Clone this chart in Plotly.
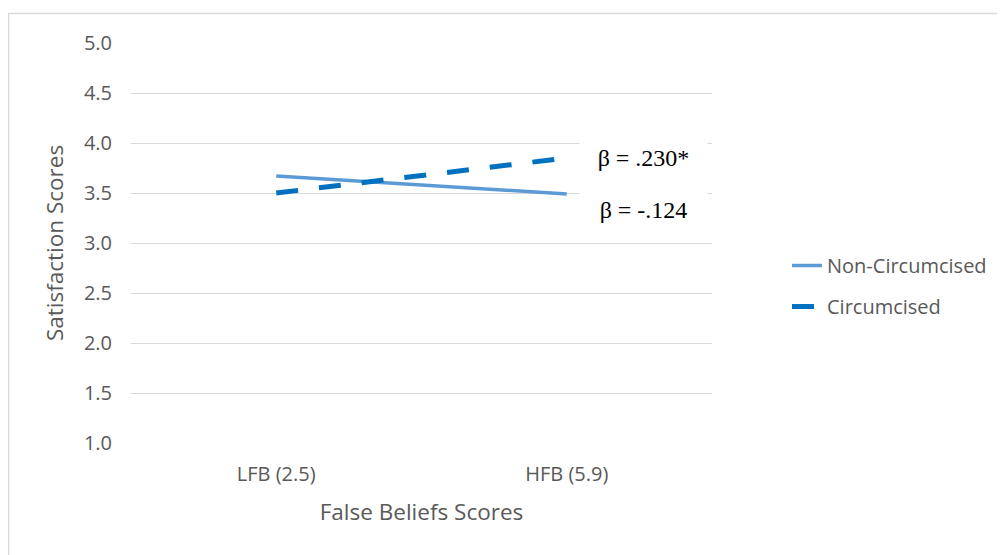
import plotly.graph_objects as go

categories = ["LFB (2.5)", "HFB (5.9)"]
non_circ = [3.67, 3.49]
circ = [3.50, 3.85]
series_names = ["Non-Circumcised", "Circumcised"]
y_ticks = [1.0, 1.5, 2.0, 2.5, 3.0, 3.5, 4.0, 4.5, 5.0]
beta_labels = ["β = .230*", "β = -.124"]

OFF = 8  # page body margin
W, H = 1005 - OFF, 555 - OFF
# plot area in window pixels
PL, PR, PT, PB = 131, 712, 43, 443
L = PL - OFF
T = PT - OFF
R = W - (PR - OFF)
B = H - (PB - OFF)
pw = PR - PL
ph = PB - PT

def px_x(p):
    return (p - PL) / pw

def px_y(p):
    return (PB - p) / ph

fig = go.Figure()
fig.add_trace(go.Scatter(
    x=categories, y=non_circ, mode="lines", name=series_names[0],
    line=dict(color="#5B9BD5", width=3.5), legendgroup="a"))
fig.add_trace(go.Scatter(
    x=categories, y=circ, mode="lines", name=series_names[1],
    line=dict(color="#0070C0", width=5, dash="22px,21px"), legendgroup="b"))

font = "Open Sans, Liberation Sans, sans-serif"
grey = "#595959"

fig.update_layout(
    width=W, height=H,
    margin=dict(l=L, r=R, t=T, b=B, autoexpand=False),
    paper_bgcolor="white", plot_bgcolor="white",
    font=dict(family=font, color=grey, size=20),
    showlegend=True,
    legend=dict(x=px_x(787), xanchor="left", y=px_y(286), yanchor="middle",
                font=dict(size=20, color=grey), tracegroupgap=12,
                traceorder="grouped", bgcolor="rgba(0,0,0,0)"),
    xaxis=dict(type="category", range=[-0.5, 1.5], showgrid=False,
               showline=False, zeroline=False, ticks="",
               tickfont=dict(size=20, color=grey), ticklabelstandoff=17,
               title=dict(text="False Beliefs Scores", font=dict(size=22.5, color=grey), standoff=18)),
    yaxis=dict(range=[1, 5], tickvals=y_ticks, tickformat=".1f",
               showgrid=True, gridcolor="#D9D9D9", gridwidth=1.3,
               zeroline=False, showline=False, ticks="",
               tickfont=dict(size=20, color=grey), ticklabelstandoff=18,
               title=dict(text="Satisfaction Scores", font=dict(size=22.5, color=grey), standoff=14)),
)

# outer border (chart frame)
fig.add_shape(type="rect", xref="paper", yref="paper",
              x0=px_x(8.5), x1=px_x(1030), y0=px_y(13.5), y1=px_y(580),
              line=dict(color="#D9D9D9", width=1.5), fillcolor="rgba(0,0,0,0)", layer="below")

for lbl, yc in zip(beta_labels, [158, 210]):
    fig.add_annotation(x=px_x(643.5), y=px_y(yc), xref="paper", yref="paper",
                       text=lbl, showarrow=False, xanchor="center", yanchor="middle",
                       width=127, height=40, bgcolor="white", borderpad=0,
                       font=dict(family="Liberation Serif, Times New Roman, serif", size=24, color="black"))

fig.write_html("out.html")
